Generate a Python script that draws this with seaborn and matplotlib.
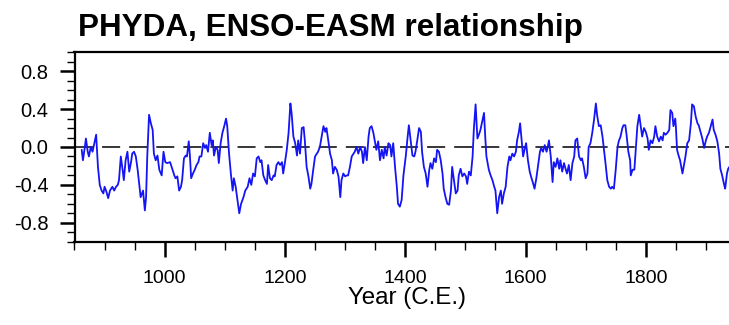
import matplotlib
matplotlib.use("Agg")
import matplotlib.pyplot as plt
from matplotlib.ticker import FixedLocator, FixedFormatter, MultipleLocator
import pandas as pd
import seaborn as sns

# 31-yr running ENSO-EASM correlation (PHYDA reanalysis)
years = [
    862, 864, 867, 869, 872, 874, 877, 880, 883, 886, 889, 892, 895, 898, 900,
    903, 906, 909, 913, 916, 919, 922, 924, 927, 930, 932, 935, 938, 941, 944,
    946, 949, 952, 955, 958, 960, 964, 967, 969, 971, 974, 977, 980, 982, 985,
    988, 991, 995, 998, 1001, 1004, 1009, 1013, 1016, 1018, 1021, 1024, 1027,
    1029, 1032, 1035,
    1037, 1040, 1042, 1044, 1047, 1050, 1053, 1056, 1058, 1061, 1064, 1067,
    1069, 1072, 1075, 1078, 1080, 1082, 1085, 1088, 1090, 1093, 1096, 1099,
    1102, 1104, 1107, 1110, 1113, 1115, 1118, 1121, 1124, 1127, 1131, 1134,
    1138, 1141, 1144, 1147, 1150, 1153, 1156, 1159, 1161, 1164, 1167, 1170,
    1172, 1175, 1178, 1181, 1183, 1186, 1189, 1192, 1195, 1197, 1200, 1203,
    1206, 1209, 1211,
    1214, 1217, 1220, 1222, 1225, 1228, 1231, 1233, 1236, 1239, 1242, 1244,
    1247, 1250, 1253, 1255, 1258, 1261, 1264, 1267, 1269, 1272, 1275, 1278,
    1280, 1283, 1286, 1289, 1292, 1294, 1297, 1300, 1303, 1305, 1308, 1311,
    1314, 1316, 1319, 1322, 1325, 1328, 1330, 1333, 1336, 1339, 1341, 1344,
    1347, 1350, 1352, 1355, 1358, 1361, 1364, 1366, 1369, 1372, 1375, 1377,
    1380, 1383, 1386, 1388, 1391, 1394, 1397,
    1401, 1404, 1406, 1409, 1412, 1415, 1417, 1420, 1423, 1426, 1428, 1431,
    1434, 1437, 1440, 1442, 1445, 1448, 1451, 1453, 1456, 1459, 1462, 1464,
    1467, 1470, 1473, 1476, 1478, 1481, 1484, 1487, 1489, 1492, 1495, 1498,
    1501, 1503, 1506, 1509, 1512, 1514, 1517, 1520, 1523, 1525, 1528, 1531,
    1533, 1535, 1539, 1542, 1545, 1548, 1550, 1553, 1556, 1559, 1561, 1564,
    1567, 1570, 1573, 1575, 1578, 1581, 1584,
    1586, 1589, 1591, 1593, 1596, 1599, 1601, 1604, 1607, 1610, 1612, 1615,
    1618, 1621, 1624, 1626, 1629, 1632, 1635, 1637, 1639, 1642, 1645, 1647,
    1650, 1653, 1656, 1658, 1661, 1664, 1667, 1669, 1672, 1675, 1678, 1681,
    1683, 1686, 1689, 1692, 1694, 1697, 1700, 1703, 1705, 1708, 1711, 1714,
    1717, 1719, 1722, 1725, 1728, 1730, 1733, 1736, 1739, 1742, 1744, 1747,
    1750, 1753, 1755,
    1758, 1761, 1763, 1766, 1768, 1771, 1774, 1775, 1778, 1781, 1784, 1786,
    1789, 1791, 1794, 1797, 1800, 1803, 1805, 1808, 1811, 1814, 1816, 1819,
    1822, 1825, 1828, 1830, 1833, 1836, 1839, 1841, 1844, 1846, 1849, 1850,
    1852, 1855, 1857, 1859, 1861, 1864, 1866, 1869, 1872, 1875, 1877, 1880,
    1883, 1886, 1888, 1891, 1894, 1897, 1900, 1902, 1905, 1908, 1911, 1913,
    1916, 1919, 1922, 1924, 1927, 1930, 1932, 1935, 1937, 1939,
]
corr = [
    -0.03, -0.14, -0.01, 0.09, -0.05, -0.10, 0.00, -0.05, 0.04, 0.13, -0.21,
    -0.40, -0.46, -0.49, -0.42, -0.47, -0.54, -0.46, -0.42, -0.46, -0.42,
    -0.40, -0.35, -0.10, -0.24, -0.35, -0.14, -0.05, -0.26, -0.16, -0.07,
    -0.05, -0.10, -0.24, -0.42, -0.53, -0.46, -0.67, -0.53, -0.10, 0.34, 0.25,
    0.18, -0.07, -0.14, -0.09, -0.24, -0.30, -0.05, -0.16, -0.17, -0.16, -0.24,
    -0.30, -0.33, -0.31, -0.46, -0.42, -0.35, -0.12, -0.09,
    -0.10, 0.06, -0.10, -0.33, -0.28, -0.24, -0.19, -0.16, -0.10, -0.10, 0.04,
    -0.01, 0.02, -0.05, 0.15, 0.02, 0.07, -0.09, 0.00, -0.03, -0.17, 0.04,
    0.15, 0.22, 0.30, 0.22, -0.07, -0.28, -0.46, -0.33, -0.42, -0.56, -0.70,
    -0.60, -0.53, -0.46, -0.42, -0.33, -0.40, -0.28, -0.31, -0.12, -0.10,
    -0.16, -0.14, -0.30, -0.35, -0.39, -0.19, -0.33, -0.35, -0.30, -0.31,
    -0.19, -0.16, -0.19, -0.16, -0.28, -0.16, -0.03, 0.15, 0.46, 0.36,
    0.11, 0.04, -0.09, 0.07, -0.07, 0.20, 0.21, 0.07, -0.21, -0.31, -0.44,
    -0.39, -0.24, -0.10, -0.07, -0.05, 0.00, 0.11, 0.22, 0.16, 0.20, 0.07,
    -0.07, -0.14, -0.28, -0.21, -0.24, -0.31, -0.53, -0.35, -0.28, -0.31,
    -0.30, -0.30, -0.21, -0.10, -0.07, -0.05, 0.00, -0.07, 0.00, -0.05, -0.17,
    0.00, -0.14, 0.11, 0.20, 0.22, 0.15, 0.04, -0.03, 0.06, -0.14, -0.03,
    -0.12, 0.00, -0.09, 0.04, 0.02, -0.10, 0.04, -0.21, -0.42, -0.60, -0.63,
    -0.56, -0.30,
    -0.09, 0.11, 0.23, 0.07, -0.09, -0.10, -0.05, 0.07, 0.20, 0.16, -0.05,
    -0.21, -0.28, -0.42, -0.24, -0.17, -0.23, -0.12, -0.16, -0.03, -0.05,
    -0.14, -0.28, -0.44, -0.53, -0.60, -0.61, -0.46, -0.21, -0.35, -0.49,
    -0.46, -0.30, -0.23, -0.31, -0.28, -0.31, -0.39, -0.26, -0.30, -0.10,
    0.18, 0.45, 0.09, 0.14, 0.18, 0.27, 0.36, 0.11, -0.10, -0.24, -0.30,
    -0.35, -0.42, -0.46, -0.70, -0.53, -0.46, -0.60, -0.49, -0.42, -0.21,
    -0.10, -0.14, -0.07, -0.10, -0.05,
    0.07, 0.16, 0.25, 0.11, -0.10, -0.01, 0.04, -0.14, -0.26, -0.33, -0.37,
    -0.44, -0.33, -0.19, -0.05, -0.01, -0.05, 0.02, -0.05, 0.00, 0.07, -0.10,
    -0.37, -0.16, -0.21, -0.12, -0.23, -0.14, -0.26, -0.17, -0.24, -0.28,
    -0.19, -0.35, -0.17, -0.10, 0.07, 0.09, -0.10, -0.14, -0.12, -0.21,
    -0.33, -0.28, 0.00, 0.04, 0.15, 0.29, 0.46, 0.34, 0.22, 0.23, 0.11, 0.00,
    -0.17, -0.35, -0.42, -0.44, -0.42, -0.44, -0.24, 0.00, 0.06,
    0.11, 0.20, 0.23, 0.23, 0.13, -0.05, -0.14, -0.30, -0.24, -0.24, 0.04,
    0.22, 0.34, 0.25, 0.11, 0.20, 0.16, 0.09, -0.03, 0.07, 0.04, 0.11, 0.22,
    0.11, 0.06, 0.11, 0.07, 0.15, 0.13, 0.15, 0.18, 0.39, 0.36, 0.22, 0.30,
    0.22, -0.03, -0.10, -0.14, -0.21, -0.28, -0.17, -0.10, 0.04, 0.07, 0.25,
    0.45, 0.43, 0.32, 0.25, 0.23, 0.16, 0.09, -0.01, 0.07, 0.11, 0.15, 0.22,
    0.29, 0.18, 0.13, 0.06, -0.07, -0.23, -0.30, -0.39, -0.44, -0.28, -0.23,
    -0.21,
]

x_ticks = [1000, 1200, 1400, 1600, 1800]
y_ticks = [-0.8, -0.4, 0.0, 0.4, 0.8]
y_tick_labels = ["-0.8", "-0.4", "0.0", "0.4", "0.8"]

sns.set_style("ticks")
plt.rcParams["font.family"] = ["Liberation Sans", "DejaVu Sans"]
plt.rcParams["axes.unicode_minus"] = False
plt.rcParams["lines.scale_dashes"] = False
for key in ("text.color", "axes.labelcolor", "xtick.color", "ytick.color",
            "axes.edgecolor"):
    plt.rcParams[key] = "black"

W, H = 729, 325
fig = plt.figure(figsize=(W / 100, H / 100), dpi=100)
left_px, right_px, top_px, bot_px = 74.5, 742.0, 52.3, 241.7
ax = fig.add_axes([left_px / W, 1 - bot_px / H,
                   (right_px - left_px) / W, (bot_px - top_px) / H])

df = pd.DataFrame({"year": years, "r": corr})
sns.lineplot(data=df, x="year", y="r", ax=ax, color="#1414f5", lw=1.3)
ax.axhline(0, color="black", lw=1.1, dashes=(13, 6.5), zorder=1)

ax.set_xlim(850, 1960)
ax.set_ylim(-1, 1)
ax.xaxis.set_major_locator(FixedLocator(x_ticks))
ax.xaxis.set_minor_locator(MultipleLocator(50))
ax.yaxis.set_major_locator(FixedLocator(y_ticks))
ax.yaxis.set_major_formatter(FixedFormatter(y_tick_labels))
ax.yaxis.set_minor_locator(MultipleLocator(0.1))

for s in ax.spines.values():
    s.set_linewidth(1.6)
    s.set_color("black")

ax.tick_params(which="major", direction="out", length=10.8, width=1.8,
               color="black")
ax.tick_params(which="minor", direction="out", length=5.5, width=1.0,
               color="black")
ax.tick_params(axis="x", which="major", labelsize=14, pad=9.5)
ax.tick_params(axis="y", which="major", labelsize=14.5, pad=8)

ax.set_ylabel("")
ax.set_xlabel("Year (C.E.)", fontsize=17.4, va="top")
ax.xaxis.set_label_coords((407 - left_px) / (right_px - left_px),
                          -(287 - bot_px) / (bot_px - top_px))

fig.text(78 / W, 1 - 36 / H, "PHYDA, ENSO-EASM relationship",
         fontsize=22.6, fontweight="bold", va="baseline", ha="left")

fig.savefig("out.png", dpi=100)
